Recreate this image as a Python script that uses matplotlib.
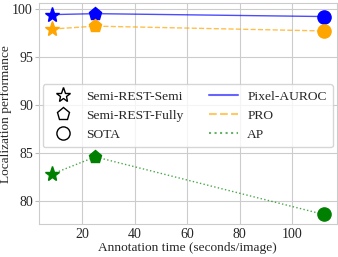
import matplotlib
matplotlib.use("Agg")
import matplotlib.pyplot as plt
import seaborn as sns
from matplotlib.lines import Line2D

sns.set_style("whitegrid")
plt.rcParams['font.family'] = ['Liberation Serif', 'DejaVu Serif']
plt.rcParams['mathtext.fontset'] = 'stix'

# annotation time for each method
times = [8.5, 25, 112]
methods = ["Semi-REST-Semi", "Semi-REST-Fully", "SOTA"]
markers = ["*", "p", "o"]

metrics = ["Pixel-AUROC", "PRO", "AP"]
values = {
    "Pixel-AUROC": [99.4, 99.5, 99.2],
    "PRO": [97.9, 98.2, 97.7],
    "AP": [82.8, 84.6, 78.6],
}
colors = {"Pixel-AUROC": "blue", "PRO": "orange", "AP": "green"}
styles = {"Pixel-AUROC": "-", "PRO": "--", "AP": ":"}

fig, ax = plt.subplots(figsize=(3.38, 2.57), dpi=100)

for m in metrics:
    ax.plot(times, values[m], color=colors[m], linestyle=styles[m], alpha=0.7, lw=1.0)
    for t, v, mk in zip(times, values[m], markers):
        sz = 11 if mk == "*" else 9.5
        ax.plot(t, v, marker=mk, color=colors[m], markersize=sz, linestyle="none")

ax.set_xlim(3.4, 117)
ax.set_ylim(77.6, 100.6)
ax.set_xticks([20, 40, 60, 80, 100])
ax.set_yticks([80, 85, 90, 95, 100])
ax.tick_params(axis="x", labelsize=10, pad=3, length=0)
ax.tick_params(axis="y", labelsize=10, pad=1, length=3, color="#bbbbbb", left=True)
ax.set_xlabel("Annotation time (seconds/image)", fontsize=9.6, labelpad=0.5)
ax.set_ylabel("Localization performance", fontsize=9.6, labelpad=0)

handles = [Line2D([], [], marker=mk, color="black", markerfacecolor="white",
                  markersize=11 if mk == "*" else 9.5, linestyle="none") for mk in markers]
labels = list(methods)
for m in metrics:
    handles.append(Line2D([], [], color=colors[m], linestyle=styles[m], alpha=0.6, lw=1.5))
    labels.append(m)

ax.legend(handles, labels, ncol=2, fontsize=9.7, loc="center", bbox_to_anchor=(0.5, 0.49),
          handlelength=2.1, handletextpad=0.7, columnspacing=1.9, labelspacing=0.5,
          borderpad=0.45, borderaxespad=0.2)

fig.subplots_adjust(left=0.114, right=0.997, top=0.988, bottom=0.128)
fig.savefig("out.png", dpi=100)
